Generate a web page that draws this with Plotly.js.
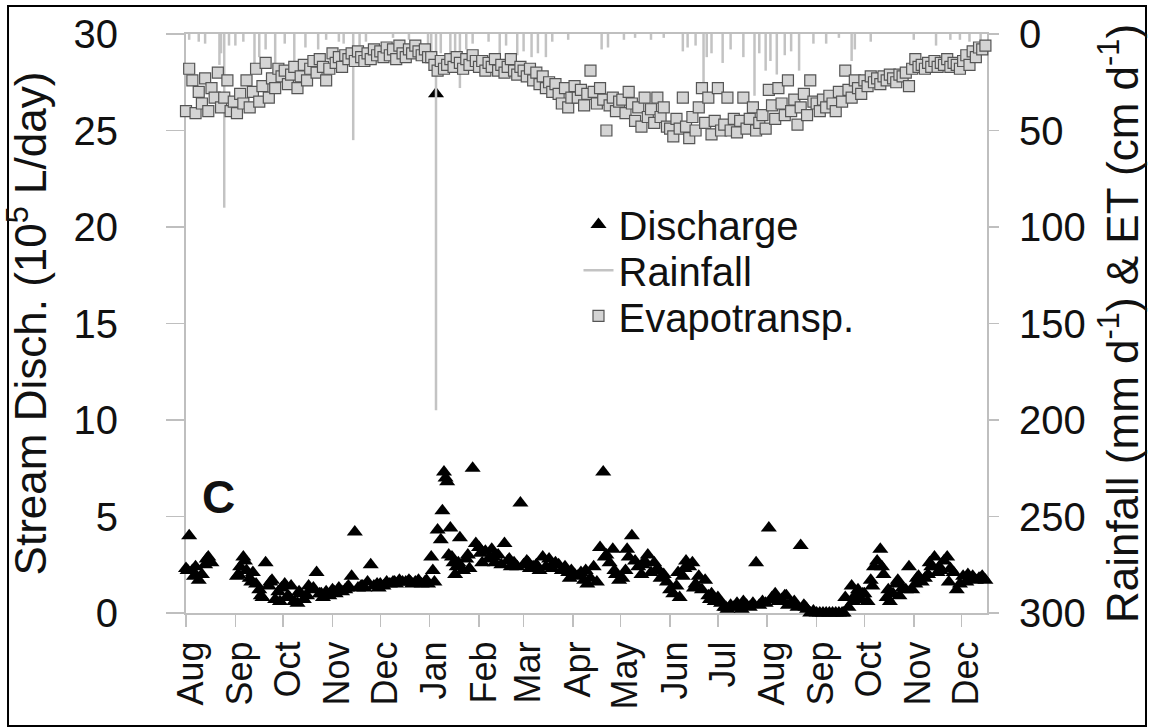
<!DOCTYPE html>
<html>
<head>
<meta charset="utf-8">
<script src="https://cdn.plot.ly/plotly-3.0.1.min.js"></script>
<style>html,body{margin:0;padding:0;background:#fff;}#chart{width:1150px;height:727px;}</style>
</head>
<body>
<div id="chart"></div>
<script>
// Sampling: discharge and ET read every 2 days starting 1 Aug (year 1)
const startDate = Date.UTC(2010, 7, 1);
const stepDays = 2;

// Stream discharge (10^5 L/day), one value per 2-day step, month by month
const discharge = [
  2.3, 4.0, 2.2, 2.4, 1.7, 2.0, 2.5, 2.9, 2.6, null, null, null, null, null, null, null, // Aug
  1.9, 2.4, 2.9, 2.2, 1.8, 2.1, 1.5, 1.2, 0.8, 2.6, 1.4, 1.7, 0.7, 1.1, 1.3,               // Sep
  1.5, 0.9, 1.4, 0.6, 0.5, 1.0, 0.7, 0.9, 1.2, 1.3, 2.1, 1.0, 0.8, 1.1, 0.9,               // Oct
  1.2, 1.0, 1.3, 1.1, 1.2, 1.4, 1.9, 4.2, 1.3, 1.4, 1.3, 1.6, 2.5, 1.4, 1.5,               // Nov
  1.5, 1.4, 1.6, 1.5, 1.6, 1.5, 1.7, 1.6, 1.6, 1.7, 1.5, 1.6, 1.7, 1.5, 1.6, 1.5,          // Dec
  2.9, 1.6, 4.3, 3.8, 7.3, 6.8, 4.4, 2.6, 2.4, 3.9, 2.2, 2.8, 2.3, 7.5, 3.6,               // Jan
  3.4, 2.6, 3.2, 2.8, 3.3, 2.6, 3.0, 2.5, 3.6, 2.7, 2.4, 2.6, 2.4, 5.7,                    // Feb
  2.5, 2.7, 2.3, 2.4, 2.5, 2.2, 2.9, 2.4, 2.8, 2.3, 2.6, 2.5, 2.2, 2.4, 2.1, 2.2,          // Mar
  2.0, 1.9, 2.1, 1.7, 1.5, 1.8, 2.4, 1.6, 3.4, 7.3, 3.0, 2.6, 3.3, 2.0, 1.7,               // Apr
  1.8, 2.2, 2.9, 4.0, 2.7, 2.4, 2.0, 2.7, 3.0, 2.1, 2.6, 2.3, 1.8, 2.0, 1.6,               // May
  1.2, 1.0, 1.4, 0.8, 1.9, 2.7, 2.4, 2.6, 1.5, 1.9, 1.2, 1.7, 0.9, 1.0, 0.6,               // Jun
  0.8, 0.5, 0.3, 0.2, 0.4, 0.3, 0.5, 0.3, 0.6, 0.4, 0.3, 0.5, 2.6, 0.4, 0.6, 0.5,          // Jul
  4.4, 0.8, 1.0, 0.6, 0.7, 0.9, 0.4, 0.5, 0.6, 0.3, 3.5, 0.4, 0.2, 0.0, 0.1,               // Aug
  0.0, 0.0, 0.0, 0.0, 0.0, 0.0, 0.0, 0.0, 0.0, 0.8, 0.3, 1.4, 0.9, 1.2, 0.7,               // Sep
  1.0, 0.6, 1.7, 2.4, 2.7, 3.3, 2.0, 0.8, 0.6, 1.0, 1.5, 0.9, 1.3, 1.2, 2.4, 1.2,          // Oct
  1.5, 1.9, 1.6, 1.8, 2.0, 2.4, 2.9, 2.1, 2.2, 2.7, 2.9, 2.3, 2.1, 1.2, 1.5,               // Nov
  1.9, 1.6, 1.8, 1.9, 1.7, 1.8, 1.9, 1.7                                                   // Dec
];
// Discharge readings on the odd days (day after 1 Aug, year 1)
const dischargeExtraDays = [1, 5, 13, 33, 37, 41, 47, 53, 59, 65, 71, 77, 85, 93, 101, 111, 121, 131, 141, 151, 155, 157, 161, 163, 165, 167, 169, 171, 177, 185, 193, 203, 215, 229, 241, 251, 263, 269, 277, 287, 297, 309, 313, 319, 329, 339, 349, 369, 377, 389, 413, 419, 425, 431, 437, 441, 447, 459, 467, 473, 479, 491, 499];
const dischargeExtraValues = [2.2, 1.9, 2.8, 2.0, 2.7, 1.6, 0.9, 1.6, 0.6, 0.8, 1.1, 1.4, 1.0, 1.1, 1.3, 1.4, 1.3, 1.6, 1.6, 1.7, 2.2, 26.9, 5.3, 7.0, 3.0, 2.9, 2.0, 2.6, 3.0, 3.1, 2.9, 2.8, 2.6, 2.4, 1.8, 2.2, 2.9, 2.2, 3.3, 2.5, 2.2, 2.1, 2.3, 1.3, 0.7, 0.3, 0.2, 0.7, 0.9, 0.3, 0.0, 0.6, 1.0, 1.4, 2.4, 1.2, 1.7, 1.8, 2.6, 2.4, 1.6, 2.0, 1.8];

// Evapotranspiration (cm/d), one value per 2-day step
const et = [
  40, 18, 24, 41, 30, 36, 23, 40, 28, 33, 20, 38, 33, 24, 40, 35,   // Aug
  41, 31, 36, 24, 38, 30, 18, 35, 27, 15, 33, 23, 28, 18, 22,       // Sep
  19, 26, 21, 17, 28, 22, 16, 24, 18, 14, 20, 13, 17, 24, 18,       // Oct
  10, 15, 12, 17, 11, 13, 10, 14, 9, 12, 14, 10, 13, 8, 11,         // Nov
  9, 12, 7, 11, 8, 13, 6, 10, 12, 8, 10, 6, 9, 11, 8, 12,           // Dec
  12, 16, 19, 14, 18, 16, 13, 17, 12, 15, 18, 13, 16, 11, 14,       // Jan
  17, 14, 19, 15, 17, 13, 19, 16, 20, 17, 13, 19, 21, 17,           // Feb
  19, 22, 18, 24, 20, 26, 22, 28, 25, 30, 26, 31, 36, 28, 38, 33,   // Mar
  27, 33, 29, 37, 31, 19, 30, 36, 28, 34, 50, 37, 33, 40, 35,       // Apr
  34, 41, 30, 36, 45, 38, 48, 33, 43, 39, 46, 33, 43, 38, 48,       // May
  49, 53, 44, 49, 33, 48, 54, 43, 50, 38, 28, 46, 33, 52, 45,       // Jun
  28, 50, 47, 33, 50, 44, 51, 45, 33, 49, 44, 38, 50, 46, 42, 49,   // Jul
  29, 37, 44, 28, 36, 42, 24, 40, 34, 47, 38, 31, 42, 24, 35,       // Aug
  36, 40, 34, 38, 32, 36, 40, 30, 35, 19, 29, 33, 24, 28, 31,       // Sep
  24, 27, 22, 25, 23, 26, 22, 24, 21, 23, 25, 21, 22, 20, 27, 18,   // Oct
  13, 17, 16, 18, 15, 17, 14, 17, 15, 16, 13, 17, 15, 16, 18,       // Nov
  14, 11, 16, 9, 12, 7, 8, 6                                        // Dec
];

// Rainfall events (mm/d): day after 1 Aug (year 1) and amount
const rainDays = [2,8,12,21,22,24,27,31,36,43,46,50,56,62,68,75,83,88,96,99,105,109,113,130,140,152,154,157,160,166,169,172,176,180,190,197,201,208,212,217,221,226,230,240,261,265,275,282,292,300,312,315,320,325,327,330,337,342,350,357,360,364,367,371,376,380,385,394,402,410,418,420,430,457,471,480,486,492,499];
const rainValues = [3,4,5,16,10,90,6,6,4,17,12,8,17,5,14,7,8,3,4,5,55,6,4,2,3,9,12,195,10,12,10,28,8,5,4,16,6,11,9,12,10,12,4,3,8,7,3,2,3,2,9,7,6,28,12,10,15,8,12,32,10,19,14,21,11,9,19,5,5,2,14,8,4,3,6,3,3,4,3];

const xRange = ['2010-08-01', '2011-12-17'];
const leftTicks = [0, 5, 10, 15, 20, 25, 30];
const rightTicks = [0, 50, 100, 150, 200, 250, 300];

function dayToDate(d) {
  return new Date(startDate + d * 86400000).toISOString().slice(0, 10);
}

const qx = discharge.map((v, i) => dayToDate(i * stepDays)).concat(dischargeExtraDays.map(dayToDate));
const qy = discharge.concat(dischargeExtraValues);
const etx = et.map((v, i) => dayToDate(i * stepDays));

const rx = [], ry = [];
rainDays.forEach((d, i) => { const t = dayToDate(d); rx.push(t, t, null); ry.push(0, rainValues[i], null); });

const FONT = 'Liberation Sans, Arial, sans-serif';
const AX = '#bfbfbf';

const traces = [
  { type: 'scatter', mode: 'markers', name: 'Discharge', x: qx, y: qy, yaxis: 'y',
    marker: { symbol: 'triangle-up', size: 14, color: '#000' }, cliponaxis: false, legend: 'legend' },
  { type: 'scatter', mode: 'lines', name: 'Rainfall', x: rx, y: ry, yaxis: 'y2',
    line: { color: '#c3c3c3', width: 2.5 }, connectgaps: false, legend: 'legend2' },
  { type: 'scatter', mode: 'markers', name: 'Evapotransp.', x: etx, y: et, yaxis: 'y2',
    marker: { symbol: 'square', size: 11, color: '#d4d4d4', line: { color: '#555', width: 1.2 } }, cliponaxis: false, legend: 'legend3' }
];

const legendBase = { xanchor: 'left', yanchor: 'middle', bgcolor: 'rgba(0,0,0,0)', borderwidth: 0,
  font: { family: FONT, size: 40, color: '#111' } };

const layout = {
  width: 1150, height: 727,
  margin: { l: 186, r: 163, t: 34, b: 114 },
  paper_bgcolor: '#fff', plot_bgcolor: '#fff',
  font: { family: FONT, color: '#111' },
  showlegend: true,
  legend:  Object.assign({}, legendBase, { x: 0.49, y: 0.671 }),
  legend2: Object.assign({}, legendBase, { x: 0.49, y: 0.592 }),
  legend3: Object.assign({}, legendBase, { x: 0.49, y: 0.513 }),
  xaxis: {
    type: 'date', range: xRange, tickmode: 'linear', tick0: '2010-08-01', dtick: 'M1',
    tickformat: '%b', tickangle: -90, ticks: 'outside', ticklen: 12, tickcolor: AX, tickwidth: 1.5,
    showline: true, linecolor: AX, linewidth: 2, mirror: true, showgrid: false, zeroline: false,
    layer: 'below traces', ticklabelshift: 5,
    tickfont: { family: FONT, size: 36, color: '#111' }
  },
  yaxis: {
    range: [0, 30], tickmode: 'array', tickvals: leftTicks, ticks: 'outside', ticklen: 18, tickcolor: AX, tickwidth: 1.5,
    showline: true, linecolor: AX, linewidth: 2, showgrid: false, zeroline: false, ticklabelstandoff: 40,
    layer: 'below traces',
    tickfont: { family: FONT, size: 40, color: '#111' },
    title: { text: 'Stream Disch. (10<sup>5</sup> L/day)', font: { family: FONT, size: 44, color: '#111' }, standoff: 18 }
  },
  yaxis2: {
    range: [300, 0], overlaying: 'y', side: 'right', tickmode: 'array', tickvals: rightTicks,
    ticks: 'outside', ticklen: 10, tickcolor: AX, tickwidth: 1.5,
    showline: true, linecolor: AX, linewidth: 2, showgrid: false, zeroline: false, ticklabelstandoff: 12,
    layer: 'below traces',
    tickfont: { family: FONT, size: 40, color: '#111' },
    title: { text: 'Rainfall (mm d<sup>-1</sup>) &amp; ET (cm d<sup>-1</sup>)', font: { family: FONT, size: 44, color: '#111' }, standoff: 22 }
  },
  annotations: [
    { xref: 'paper', yref: 'paper', x: 0.04, y: 0.2, text: '<b>C</b>', showarrow: false,
      font: { family: FONT, size: 46, color: '#111' }, xanchor: 'center', yanchor: 'middle' }
  ],
  shapes: [
    { type: 'rect', xref: 'paper', yref: 'paper', x0: -0.2222, x1: 1.1985, y0: -0.195, y1: 1.0484,
      line: { color: '#000', width: 2 }, fillcolor: 'rgba(0,0,0,0)', layer: 'above' }
  ]
};

Plotly.newPlot('chart', traces, layout, { staticPlot: true, displayModeBar: false });
</script>
</body>
</html>
